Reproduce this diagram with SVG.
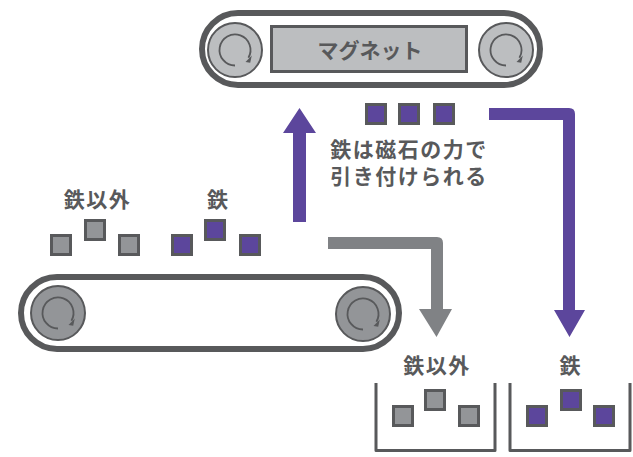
<svg xmlns="http://www.w3.org/2000/svg" width="633" height="457" viewBox="0 0 633 457">
<style>
.belt{fill:none;stroke:#58595b;stroke-width:6}
.roll-l{fill:#bcbec0;stroke:#58595b;stroke-width:2}
.roll-d{fill:#939598;stroke:#58595b;stroke-width:2}
.rot{fill:none;stroke:#58595b;stroke-width:1.8}
.rothead{fill:#58595b}
.sq-g{fill:#939598;stroke:#58595b;stroke-width:3}
.sq-p{fill:#5c469c;stroke:#58595b;stroke-width:3}
.bin{fill:none;stroke:#58595b;stroke-width:3;stroke-linejoin:round}
.t{font-family:"Noto Sans CJK JP","Noto Sans",sans-serif;font-size:21px;font-weight:bold;fill:#58595b;text-anchor:middle;dominant-baseline:central}
.ls{letter-spacing:1.5px}
.ap{fill:#5c469c}
.ag{fill:#808285}
</style>
<defs>
<g id="rotIcon">
<path class="rot" d="M0,15.5 A15.5,15.5 0 1 1 13.4,7.8"/>
<polygon class="rothead" points="10.5,12 16.8,5.5 15.2,12.8"/>
</g>
</defs>

<g id="magnet-belt">
<rect class="belt" x="202" y="13" width="338" height="72" rx="36"/>
<circle class="roll-l" cx="235" cy="50" r="27"/>
<use href="#rotIcon" x="235" y="50"/>
<circle class="roll-l" cx="506" cy="50" r="27"/>
<use href="#rotIcon" x="506" y="50"/>
<rect x="271.5" y="26.5" width="195" height="45" fill="#bcbec0" stroke="#58595b" stroke-width="3"/>
<text class="t" x="370" y="49" font-size="20">マグネット</text>
</g>

<g id="conveyor-belt">
<rect class="belt" x="21" y="277" width="378" height="72" rx="36"/>
<circle class="roll-d" cx="58" cy="313" r="27"/>
<use href="#rotIcon" x="58" y="313"/>
<circle class="roll-d" cx="363" cy="314" r="27"/>
<use href="#rotIcon" x="363" y="314"/>
</g>

<g id="mixed-items">
<text class="t ls" x="97.5" y="198">鉄以外</text>
<rect class="sq-g" x="51.5" y="235.5" width="19" height="19"/>
<rect class="sq-g" x="85.5" y="220.5" width="19" height="19"/>
<rect class="sq-g" x="119.5" y="235.5" width="19" height="19"/>
<text class="t" x="217.5" y="198">鉄</text>
<rect class="sq-p" x="172.5" y="235.5" width="19" height="19"/>
<rect class="sq-p" x="205.5" y="220.5" width="19" height="19"/>
<rect class="sq-p" x="240.5" y="235.5" width="19" height="19"/>
</g>

<g id="attracted-iron">
<rect class="sq-p" x="366.5" y="104.5" width="19" height="19"/>
<rect class="sq-p" x="399.5" y="104.5" width="19" height="19"/>
<rect class="sq-p" x="434.5" y="104.5" width="19" height="19"/>
<text class="t ls" x="409" y="147.5">鉄は磁石の力で</text>
<text class="t ls" x="409" y="175">引き付けられる</text>
</g>

<g id="bin-other">
<text class="t ls" x="437" y="364">鉄以外</text>
<path class="bin" d="M376,383 V450.5 H495 V383"/>
<rect class="sq-g" x="393.5" y="406.5" width="19" height="19"/>
<rect class="sq-g" x="425.5" y="390.5" width="19" height="19"/>
<rect class="sq-g" x="459.5" y="406.5" width="19" height="19"/>
</g>

<g id="bin-iron">
<text class="t" x="570" y="364">鉄</text>
<path class="bin" d="M510,383 V450.5 H630 V383"/>
<rect class="sq-p" x="527.5" y="406.5" width="19" height="19"/>
<rect class="sq-p" x="561.5" y="390.5" width="19" height="19"/>
<rect class="sq-p" x="594.5" y="406.5" width="19" height="19"/>
</g>

<g id="connectors">
<path class="ap" d="M293,222 V133 H283 L299.5,108 L316,133 H306 V222 Z"/>
<path class="ap" d="M489,108 H569 Q575,108 575,114 V310 H585 L569.5,337 L554,310 H563 V120 H489 Z"/>
<path class="ag" d="M328,237 H437 Q443,237 443,243 V309 H452 L436.5,337 L419,309 H431 V249 H328 Z"/>
</g>
</svg>
